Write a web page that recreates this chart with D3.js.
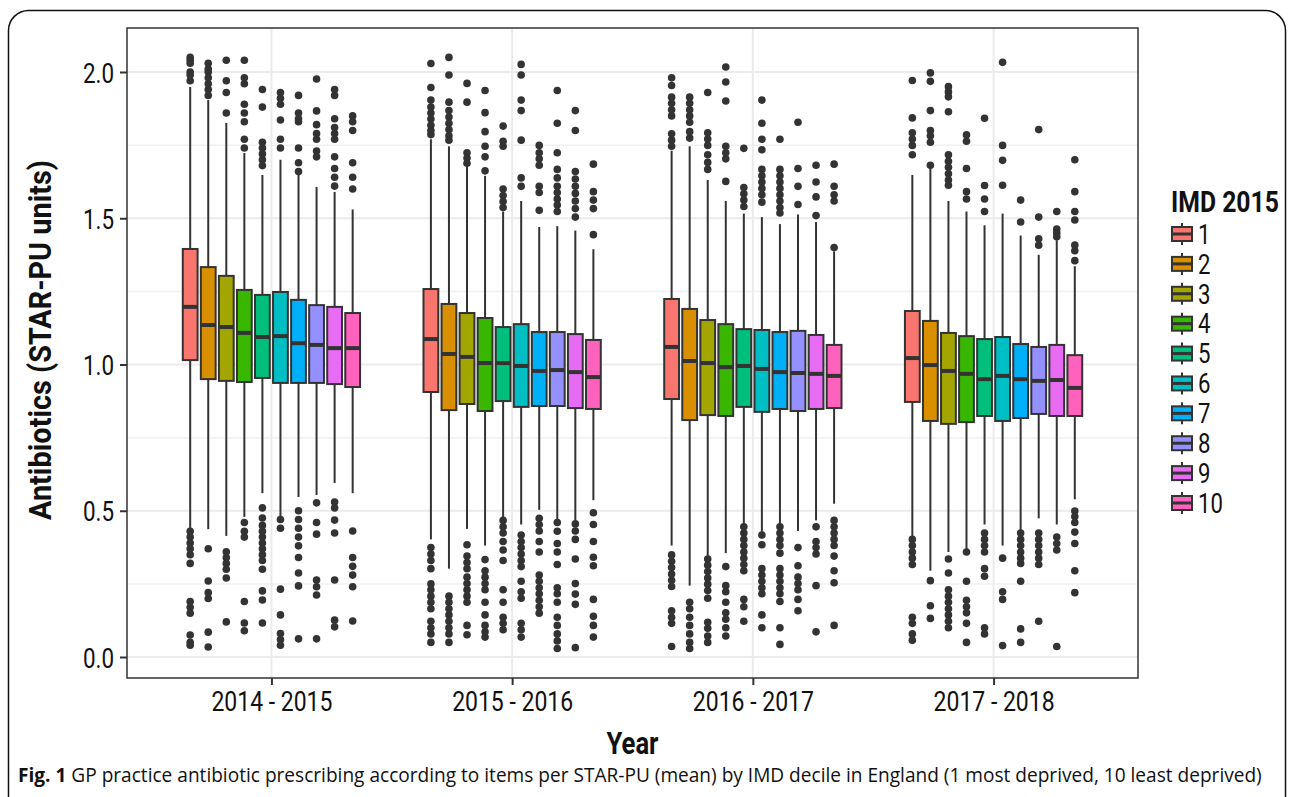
<!DOCTYPE html>
<html>
<head>
<meta charset="utf-8">
<script src="https://cdn.jsdelivr.net/npm/d3@7"></script>
<style>
  body { margin: 0; background: #fff; }
  svg { display: block; }
  .cond { font-family: Roboto, 'Liberation Sans', sans-serif; }
</style>
</head>
<body>
<div id="container"></div>
<script>
const years = ['2014 - 2015', '2015 - 2016', '2016 - 2017', '2017 - 2018'];
const deciles = ['1', '2', '3', '4', '5', '6', '7', '8', '9', '10'];
const colors = ['#F8766D', '#D89000', '#A3A500', '#39B600', '#00BF7D', '#00BFC4', '#00B0F6', '#9590FF', '#E76BF3', '#FF62BC'];
const yTicks = [0, 0.5, 1, 1.5, 2];
const yMinorTicks = [0.25, 0.75, 1.25, 1.75];

// one row per year, one value per decile
const upperQuartile = [
  [1.395, 1.333, 1.303, 1.255, 1.238, 1.248, 1.221, 1.203, 1.197, 1.176],
  [1.258, 1.207, 1.176, 1.159, 1.128, 1.138, 1.111, 1.111, 1.104, 1.084],
  [1.224, 1.190, 1.152, 1.138, 1.121, 1.118, 1.111, 1.115, 1.101, 1.067],
  [1.183, 1.149, 1.108, 1.097, 1.087, 1.094, 1.070, 1.060, 1.067, 1.032]
];
const medians = [
  [1.197, 1.135, 1.128, 1.108, 1.094, 1.097, 1.073, 1.067, 1.056, 1.056],
  [1.087, 1.036, 1.026, 1.005, 1.005, 0.995, 0.978, 0.981, 0.974, 0.957],
  [1.060, 1.012, 1.005, 0.991, 0.995, 0.985, 0.974, 0.971, 0.968, 0.961],
  [1.022, 0.998, 0.978, 0.968, 0.950, 0.961, 0.950, 0.944, 0.947, 0.920]
];
const lowerQuartile = [
  [1.015, 0.950, 0.944, 0.940, 0.954, 0.937, 0.937, 0.937, 0.933, 0.923],
  [0.906, 0.844, 0.865, 0.841, 0.875, 0.855, 0.858, 0.858, 0.851, 0.848],
  [0.882, 0.810, 0.827, 0.824, 0.855, 0.838, 0.848, 0.841, 0.848, 0.851],
  [0.872, 0.807, 0.797, 0.803, 0.824, 0.807, 0.817, 0.831, 0.824, 0.824]
];
const whiskerHigh = [
  [1.949, 1.904, 1.826, 1.723, 1.648, 1.700, 1.655, 1.607, 1.590, 1.530],
  [1.770, 1.746, 1.681, 1.645, 1.523, 1.559, 1.470, 1.473, 1.458, 1.394],
  [1.731, 1.746, 1.631, 1.559, 1.516, 1.504, 1.480, 1.513, 1.487, 1.387],
  [1.648, 1.674, 1.559, 1.523, 1.476, 1.516, 1.441, 1.375, 1.425, 1.336]
];
const whiskerLow = [
  [0.441, 0.437, 0.414, 0.479, 0.560, 0.479, 0.547, 0.554, 0.595, 0.560],
  [0.402, 0.302, 0.438, 0.381, 0.474, 0.453, 0.503, 0.467, 0.467, 0.536],
  [0.381, 0.244, 0.345, 0.355, 0.453, 0.427, 0.453, 0.431, 0.467, 0.524],
  [0.412, 0.295, 0.359, 0.369, 0.453, 0.381, 0.431, 0.474, 0.453, 0.539]
];

const outliers2014 = [
  [2.05, 2.04, 2.03, 2.0, 1.99, 1.97, 0.43, 0.41, 0.39, 0.37, 0.35, 0.32, 0.19, 0.17, 0.15, 0.075, 0.05, 0.04],
  [2.03, 2.01, 2.0, 1.98, 1.96, 1.94, 1.92, 0.37, 0.26, 0.22, 0.2, 0.085, 0.034],
  [2.04, 1.97, 1.93, 1.86, 0.36, 0.34, 0.32, 0.3, 0.27, 0.12],
  [2.04, 1.98, 1.96, 1.89, 1.86, 1.83, 1.77, 1.74, 0.46, 0.43, 0.41, 0.19, 0.116, 0.09],
  [1.94, 1.88, 1.76, 1.74, 1.72, 1.7, 1.68, 0.51, 0.475, 0.45, 0.43, 0.41, 0.39, 0.37, 0.35, 0.33, 0.3, 0.226, 0.195, 0.116],
  [1.93, 1.91, 1.89, 1.836, 1.77, 1.74, 0.47, 0.44, 0.232, 0.144, 0.08, 0.06, 0.04],
  [1.92, 1.86, 1.84, 1.83, 1.74, 1.69, 1.66, 0.5, 0.47, 0.44, 0.41, 0.38, 0.34, 0.287, 0.243, 0.062],
  [1.976, 1.867, 1.82, 1.79, 1.77, 1.73, 1.71, 0.527, 0.46, 0.42, 0.263, 0.24, 0.212, 0.062],
  [1.94, 1.92, 1.84, 1.81, 1.79, 1.77, 1.71, 1.67, 1.64, 1.61, 0.53, 0.51, 0.468, 0.424, 0.263, 0.126, 0.103],
  [1.85, 1.83, 1.8, 1.69, 1.64, 1.6, 0.431, 0.34, 0.31, 0.28, 0.24, 0.123]
];
const outliers2015 = [
  [2.029, 1.947, 1.904, 1.88, 1.86, 1.839, 1.818, 1.8, 1.786, 0.374, 0.352, 0.33, 0.302, 0.25, 0.23, 0.208, 0.187, 0.165, 0.122, 0.1, 0.079, 0.05],
  [2.05, 1.99, 1.897, 1.868, 1.846, 1.825, 1.803, 1.782, 1.767, 0.208, 0.187, 0.165, 0.144, 0.122, 0.1, 0.079, 0.05],
  [1.961, 1.897, 1.724, 1.706, 1.688, 0.384, 0.345, 0.323, 0.302, 0.273, 0.251, 0.23, 0.208, 0.187, 0.108, 0.076],
  [1.937, 1.861, 1.796, 1.746, 1.71, 1.662, 0.333, 0.295, 0.273, 0.251, 0.23, 0.187, 0.144, 0.108, 0.086, 0.068],
  [1.815, 1.763, 1.746, 1.6, 1.578, 1.557, 1.537, 0.467, 0.445, 0.424, 0.395, 0.366, 0.33, 0.23, 0.187, 0.136, 0.115, 0.093],
  [2.026, 1.99, 1.904, 1.868, 1.767, 1.638, 1.609, 0.417, 0.395, 0.374, 0.352, 0.33, 0.309, 0.259, 0.223, 0.201, 0.115, 0.093, 0.068],
  [1.749, 1.724, 1.703, 1.681, 1.609, 1.588, 1.527, 0.474, 0.453, 0.431, 0.395, 0.359, 0.28, 0.259, 0.237, 0.216, 0.194, 0.172, 0.15],
  [1.937, 1.825, 1.724, 1.667, 1.638, 1.609, 1.588, 1.566, 1.545, 1.523, 0.46, 0.43, 0.388, 0.359, 0.316, 0.237, 0.216, 0.187, 0.136, 0.108, 0.079, 0.055, 0.029],
  [1.868, 1.8, 1.66, 1.634, 1.609, 1.585, 1.559, 1.533, 1.504, 0.455, 0.431, 0.402, 0.335, 0.251, 0.215, 0.18, 0.032],
  [1.685, 1.591, 1.562, 1.533, 1.444, 0.493, 0.453, 0.395, 0.341, 0.312, 0.197, 0.139, 0.108, 0.068]
];
const outliers2016 = [
  [1.98, 1.954, 1.914, 1.893, 1.871, 1.85, 1.789, 1.767, 1.746, 0.349, 0.327, 0.306, 0.284, 0.262, 0.241, 0.158, 0.136, 0.115, 0.036],
  [1.914, 1.893, 1.871, 1.85, 1.828, 1.796, 1.774, 0.187, 0.165, 0.136, 0.108, 0.079, 0.05, 0.029],
  [1.93, 1.792, 1.771, 1.749, 1.717, 1.691, 1.667, 0.335, 0.314, 0.292, 0.27, 0.249, 0.227, 0.201, 0.119, 0.098, 0.072, 0.05],
  [2.017, 1.966, 1.901, 1.746, 1.724, 1.703, 1.626, 0.309, 0.244, 0.223, 0.187, 0.151, 0.129, 0.1, 0.072],
  [1.739, 1.605, 1.584, 1.562, 1.54, 0.445, 0.424, 0.402, 0.381, 0.359, 0.338, 0.316, 0.295, 0.197, 0.172, 0.122],
  [1.904, 1.825, 1.77, 1.734, 1.667, 1.645, 1.624, 1.602, 1.58, 1.555, 0.417, 0.384, 0.302, 0.28, 0.259, 0.237, 0.216, 0.144, 0.1],
  [1.77, 1.667, 1.645, 1.624, 1.602, 1.58, 1.559, 1.537, 1.518, 0.445, 0.424, 0.402, 0.381, 0.355, 0.302, 0.28, 0.259, 0.237, 0.216, 0.19, 0.1, 0.043],
  [1.828, 1.67, 1.609, 1.547, 0.374, 0.312, 0.273, 0.251, 0.23, 0.197, 0.158],
  [1.681, 1.624, 1.573, 1.509, 0.445, 0.395, 0.374, 0.352, 0.244, 0.086],
  [1.685, 1.609, 1.58, 1.559, 1.4, 0.467, 0.445, 0.424, 0.402, 0.381, 0.345, 0.295, 0.254, 0.108]
];
const outliers2017 = [
  [1.971, 1.843, 1.792, 1.771, 1.749, 1.717, 0.402, 0.381, 0.359, 0.338, 0.316, 0.136, 0.115, 0.079, 0.057],
  [1.997, 1.968, 1.868, 1.8, 1.782, 1.76, 1.681, 0.261, 0.175, 0.132],
  [1.95, 1.932, 1.915, 1.864, 1.717, 1.695, 1.674, 1.652, 1.631, 1.613, 0.335, 0.287, 0.23, 0.208, 0.187, 0.165, 0.144, 0.122, 0.1],
  [1.785, 1.763, 1.67, 1.591, 1.566, 0.359, 0.259, 0.194, 0.172, 0.151, 0.115, 0.05],
  [1.842, 1.612, 1.566, 1.523, 0.424, 0.402, 0.381, 0.359, 0.302, 0.276, 0.1, 0.079],
  [2.033, 1.749, 1.698, 1.613, 0.338, 0.223, 0.197, 0.039],
  [1.562, 1.487, 0.424, 0.402, 0.381, 0.359, 0.338, 0.32, 0.259, 0.096, 0.05],
  [1.803, 1.504, 1.43, 1.408, 0.424, 0.402, 0.381, 0.359, 0.338, 0.316, 0.122],
  [1.523, 1.463, 1.45, 1.437, 0.41, 0.388, 0.366, 0.036],
  [1.7, 1.591, 1.523, 1.494, 1.408, 1.389, 1.355, 0.499, 0.48, 0.46, 0.427, 0.388, 0.295, 0.22]
];
const outliers = [outliers2014, outliers2015, outliers2016, outliers2017];

const width = 1293;
const height = 797;
const panel = { left: 127, right: 1138, top: 28, bottom: 678 };
const dark = '#333333';

//squeeze a text horizontally, the reference uses a condensed face
const condense = (sel, k) => {
  sel.each(function () {
    const len = this.getComputedTextLength();
    d3.select(this)
      .attr('textLength', len * k)
      .attr('lengthAdjust', 'spacingAndGlyphs');
  });
};

const fitTo = (sel, target) => {
  sel.attr('textLength', target).attr('lengthAdjust', 'spacingAndGlyphs');
};

const svg = d3.select('#container')
  .append('svg')
  .attr('width', width)
  .attr('height', height);

svg.append('rect')
  .attr('width', width)
  .attr('height', height)
  .attr('fill', '#fff');

//rounded frame round the figure
svg.append('rect')
  .attr('x', 8.5)
  .attr('y', 10.5)
  .attr('width', 1277)
  .attr('height', 820)
  .attr('rx', 20)
  .attr('fill', 'none')
  .attr('stroke', '#111')
  .attr('stroke-width', 1.5);

const xScale = d3.scalePoint()
  .domain(years)
  .range([panel.left, panel.right])
  .padding(0.6);

const step = xScale.step();

const innerScale = d3.scaleBand()
  .domain(deciles)
  .range([-0.375 * step, 0.375 * step])
  .paddingInner(0.18)
  .paddingOuter(0.09);

const yScale = d3.scaleLinear()
  .domain([0, 2])
  .range([657, 72]);

//gridlines
const grid = svg.append('g');

grid.selectAll('.minor')
  .data(yMinorTicks)
  .enter()
  .append('line')
  .attr('x1', panel.left)
  .attr('x2', panel.right)
  .attr('y1', d => yScale(d))
  .attr('y2', d => yScale(d))
  .attr('stroke', '#F0F0F0')
  .attr('stroke-width', 1.5);

grid.selectAll('.major')
  .data(yTicks)
  .enter()
  .append('line')
  .attr('x1', panel.left)
  .attr('x2', panel.right)
  .attr('y1', d => yScale(d))
  .attr('y2', d => yScale(d))
  .attr('stroke', '#EBEBEB')
  .attr('stroke-width', 2);

grid.selectAll('.vmajor')
  .data(years)
  .enter()
  .append('line')
  .attr('y1', panel.top)
  .attr('y2', panel.bottom)
  .attr('x1', d => xScale(d))
  .attr('x2', d => xScale(d))
  .attr('stroke', '#EBEBEB')
  .attr('stroke-width', 2);

//flatten the boxes
const boxes = [];
years.forEach((year, yi) => {
  deciles.forEach((dec, di) => {
    boxes.push({
      year, dec, color: colors[di],
      q1: lowerQuartile[yi][di],
      med: medians[yi][di],
      q3: upperQuartile[yi][di],
      lo: whiskerLow[yi][di],
      hi: whiskerHigh[yi][di],
      out: outliers[yi][di]
    });
  });
});

const bw = innerScale.bandwidth();
const cx = d => xScale(d.year) + innerScale(d.dec) + bw / 2;

const boxG = svg.append('g')
  .selectAll('g')
  .data(boxes)
  .enter()
  .append('g');

//whiskers
boxG.append('line')
  .attr('x1', cx).attr('x2', cx)
  .attr('y1', d => yScale(d.hi))
  .attr('y2', d => yScale(d.q3))
  .attr('stroke', dark)
  .attr('stroke-width', 2);

boxG.append('line')
  .attr('x1', cx).attr('x2', cx)
  .attr('y1', d => yScale(d.q1))
  .attr('y2', d => yScale(d.lo))
  .attr('stroke', dark)
  .attr('stroke-width', 2);

//boxes
boxG.append('rect')
  .attr('x', d => cx(d) - bw / 2)
  .attr('width', bw)
  .attr('y', d => yScale(d.q3))
  .attr('height', d => yScale(d.q1) - yScale(d.q3))
  .attr('fill', d => d.color)
  .attr('stroke', dark)
  .attr('stroke-width', 2);

//medians
boxG.append('line')
  .attr('x1', d => cx(d) - bw / 2)
  .attr('x2', d => cx(d) + bw / 2)
  .attr('y1', d => yScale(d.med))
  .attr('y2', d => yScale(d.med))
  .attr('stroke', dark)
  .attr('stroke-width', 4);

//outliers
boxG.selectAll('circle')
  .data(d => d.out.map(v => ({ v, x: cx(d) })))
  .enter()
  .append('circle')
  .attr('cx', d => d.x)
  .attr('cy', d => yScale(d.v))
  .attr('r', 3.8)
  .attr('fill', dark);

//panel border
svg.append('rect')
  .attr('x', panel.left)
  .attr('y', panel.top)
  .attr('width', panel.right - panel.left)
  .attr('height', panel.bottom - panel.top)
  .attr('fill', 'none')
  .attr('stroke', dark)
  .attr('stroke-width', 1.5);

//axes
const yAxis = svg.append('g')
  .attr('transform', `translate(${panel.left}, 0)`)
  .call(d3.axisLeft(yScale)
    .tickValues(yTicks)
    .tickFormat(d3.format('.1f'))
    .tickSize(7)
    .tickPadding(6));

const xAxis = svg.append('g')
  .attr('transform', `translate(0, ${panel.bottom})`)
  .call(d3.axisBottom(xScale)
    .tickSize(7)
    .tickPadding(6));

[xAxis, yAxis].forEach(ax => {
  ax.select('.domain').remove();
  ax.selectAll('.tick line').attr('stroke', dark).attr('stroke-width', 2);
  ax.selectAll('.tick text')
    .attr('class', 'cond')
    .attr('fill', '#111')
    .style('font-size', '28px');
});

xAxis.selectAll('.tick text').attr('dy', '0.72em');
yAxis.selectAll('.tick text').attr('dy', '0.36em');
condense(xAxis.selectAll('.tick text'), 0.82);
condense(yAxis.selectAll('.tick text'), 0.8);

//axis titles
svg.append('text')
  .attr('class', 'cond')
  .attr('transform', `translate(51, 340) rotate(-90)`)
  .attr('text-anchor', 'middle')
  .attr('fill', '#111')
  .style('font-size', '31px')
  .style('font-weight', 'bold')
  .text('Antibiotics (STAR-PU units)')
  .call(fitTo, 360);

svg.append('text')
  .attr('class', 'cond')
  .attr('x', (panel.left + panel.right) / 2)
  .attr('y', 754)
  .attr('text-anchor', 'middle')
  .attr('fill', '#111')
  .style('font-size', '31px')
  .style('font-weight', 'bold')
  .text('Year')
  .call(fitTo, 52);

//legend
const legend = svg.append('g')
  .attr('transform', 'translate(1171, 0)');

//title squeezed with a scale so its box stays inside the frame
const legendTitle = legend.append('text')
  .attr('class', 'cond')
  .attr('x', 0)
  .attr('y', 212)
  .attr('fill', '#111')
  .style('font-size', '29px')
  .style('font-weight', 'bold')
  .text('IMD 2015');

const titleLen = legendTitle.node().getComputedTextLength();
legendTitle.attr('transform', `scale(${108 / titleLen}, 1)`);

const keyY = d3.scalePoint()
  .domain(deciles)
  .range([234, 503]);

const key = legend.selectAll('.key')
  .data(deciles)
  .enter()
  .append('g')
  .attr('transform', d => `translate(0, ${keyY(d)})`);

key.append('line')
  .attr('x1', 11).attr('x2', 11)
  .attr('y1', -11).attr('y2', 11)
  .attr('stroke', dark)
  .attr('stroke-width', 2);

key.append('rect')
  .attr('x', 1)
  .attr('y', -7)
  .attr('width', 20)
  .attr('height', 14)
  .attr('fill', (d, i) => colors[i])
  .attr('stroke', dark)
  .attr('stroke-width', 2);

key.append('line')
  .attr('x1', 1).attr('x2', 21)
  .attr('y1', 0).attr('y2', 0)
  .attr('stroke', dark)
  .attr('stroke-width', 3);

const keyText = key.append('text')
  .attr('class', 'cond')
  .attr('x', 27)
  .attr('y', 0)
  .attr('dy', '0.36em')
  .attr('fill', '#111')
  .style('font-size', '27px')
  .text(d => d);

condense(keyText, 0.82);

//caption
const caption = svg.append('text')
  .attr('x', 18)
  .attr('y', 782)
  .style('font-family', "'Open Sans', 'Noto Sans', sans-serif")
  .style('font-size', '20px')
  .attr('fill', '#111');

caption.append('tspan')
  .style('font-weight', 'bold')
  .text('Fig. 1');

caption.append('tspan')
  .text(' GP practice antibiotic prescribing according to items per STAR-PU (mean) by IMD decile in England (1 most deprived, 10 least deprived)');

//fit caption to the width it takes in the figure
const capLen = caption.node().getComputedTextLength();
caption.style('font-size', `${20 * 1244 / capLen}px`);
</script>
</body>
</html>
